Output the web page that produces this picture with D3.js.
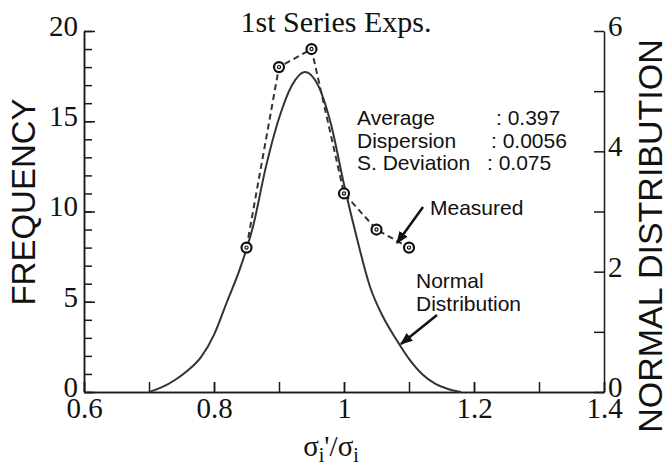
<!DOCTYPE html>
<html>
<head>
<meta charset="utf-8">
<script src="https://cdn.jsdelivr.net/npm/d3@7"></script>
<style>
  body { margin: 0; background: #fff; }
  svg { display: block; }
  .serif { font-family: "Liberation Serif", "Times New Roman", serif; }
  .sans { font-family: "Liberation Sans", Arial, sans-serif; }
</style>
</head>
<body>
<svg id="chart" width="672" height="465"></svg>
<script>
// measured frequencies (left axis)
const measuredX = [0.85, 0.9, 0.95, 1.0, 1.05, 1.1];
const measuredY = [8, 18, 19, 11, 9, 8];

// normal distribution curve (right axis)
const normalX = [0.70, 0.72, 0.74, 0.76, 0.78, 0.80, 0.82, 0.84, 0.86, 0.88, 0.90, 0.92, 0.94, 0.96, 0.98, 1.00, 1.02, 1.04, 1.06, 1.08, 1.10, 1.12, 1.14, 1.16, 1.18];
const normalY = [0.0, 0.08, 0.2, 0.36, 0.58, 0.95, 1.5, 2.05, 2.75, 3.75, 4.55, 5.1, 5.32, 5.1, 4.45, 3.45, 2.55, 1.75, 1.25, 0.88, 0.55, 0.3, 0.14, 0.05, 0];

const xTickLabels = [0.6, 0.8, 1.0, 1.2, 1.4];
const leftTickLabels = [0, 5, 10, 15, 20];
const rightTickLabels = [0, 2, 4, 6];

const stats = [
  { label: "Average", value: ": 0.397" },
  { label: "Dispersion", value: ": 0.0056" },
  { label: "S. Deviation", value: ": 0.075" }
];

const svg = d3.select("#chart");
const mLeft = 84, mRight = 604, mTop = 31, mBottom = 392;

const x = d3.scaleLinear().domain([0.6, 1.4]).range([mLeft, mRight]);
const yL = d3.scaleLinear().domain([0, 20]).range([mBottom, mTop]);
const yR = d3.scaleLinear().domain([0, 6]).range([mBottom, mTop]);

const axisColor = "#1a1a1a";

function styleAxis(g, fontSize) {
  g.select(".domain").attr("stroke", axisColor).attr("stroke-width", 1.5);
  g.selectAll(".tick line").attr("stroke", axisColor).attr("stroke-width", 1.5);
  g.selectAll(".tick text")
    .attr("class", "serif")
    .attr("fill", "#111")
    .style("font-size", fontSize + "px");
}

// minor ticks (inward)
svg.append("g")
  .attr("transform", `translate(${mLeft},0)`)
  .call(d3.axisLeft(yL).ticks(20).tickSize(-8).tickFormat("").tickSizeOuter(0))
  .call(g => styleAxis(g, 28));

svg.append("g")
  .attr("transform", `translate(0,${mBottom})`)
  .call(d3.axisBottom(x).ticks(8).tickSize(-10).tickFormat("").tickSizeOuter(0))
  .call(g => styleAxis(g, 28));

// labelled axes
svg.append("g")
  .attr("transform", `translate(${mLeft},0)`)
  .call(d3.axisLeft(yL).tickValues(leftTickLabels).tickSize(-11).tickPadding(6).tickSizeOuter(0))
  .call(g => styleAxis(g, 29))
  .call(g => g.selectAll(".tick text").attr("dy", "0.15em"));

svg.append("g")
  .attr("transform", `translate(${mRight},0)`)
  .call(d3.axisRight(yR).ticks(6).tickSize(-10).tickFormat(d => rightTickLabels.includes(d) ? d : "").tickPadding(4).tickSizeOuter(0))
  .call(g => styleAxis(g, 29))
  .call(g => g.selectAll(".tick text").attr("dy", "0.15em"));

svg.append("g")
  .attr("transform", `translate(0,${mBottom})`)
  .call(d3.axisBottom(x).tickValues(xTickLabels).tickSize(-10).tickPadding(5)
    .tickFormat(d => d === 1 ? "1" : d3.format(".1f")(d)).tickSizeOuter(0))
  .call(g => styleAxis(g, 29));

// normal distribution curve
const normalData = normalX.map((v, i) => [v, normalY[i]]);
svg.append("path")
  .datum(normalData)
  .attr("fill", "none")
  .attr("stroke", "#333")
  .attr("stroke-width", 2)
  .attr("d", d3.line().x(d => x(d[0])).y(d => yR(d[1])).curve(d3.curveMonotoneX));

// measured dashed line
const measData = measuredX.map((v, i) => [v, measuredY[i]]);
svg.append("path")
  .datum(measData)
  .attr("fill", "none")
  .attr("stroke", "#333")
  .attr("stroke-width", 2)
  .attr("stroke-dasharray", "6,4")
  .attr("d", d3.line().x(d => x(d[0])).y(d => yL(d[1])));

const marks = svg.append("g").selectAll("g")
  .data(measData)
  .join("g")
  .attr("transform", d => `translate(${x(d[0])},${yL(d[1])})`);
marks.append("circle").attr("r", 5).attr("fill", "#fff").attr("stroke", "#111").attr("stroke-width", 2.2);
marks.append("circle").attr("r", 1.6).attr("fill", "none").attr("stroke", "#111").attr("stroke-width", 1.2);

// title
svg.append("text")
  .attr("class", "serif")
  .attr("x", 336).attr("y", 32)
  .attr("text-anchor", "middle")
  .style("font-size", "30px")
  .attr("fill", "#111")
  .text("1st Series Exps.");

// axis titles
const xt = svg.append("text")
  .attr("class", "serif")
  .attr("x", 331).attr("y", 456)
  .attr("text-anchor", "middle")
  .style("font-size", "29px")
  .attr("fill", "#111");
xt.append("tspan").text("σ");
xt.append("tspan").attr("dy", 6).style("font-size", "20px").text("i");
xt.append("tspan").attr("dy", -6).text("'/σ");
xt.append("tspan").attr("dy", 6).style("font-size", "20px").text("i");

svg.append("text")
  .attr("class", "sans")
  .attr("transform", "translate(35,202) rotate(-90)")
  .attr("text-anchor", "middle")
  .style("font-size", "33px")
  .attr("fill", "#111")
  .text("FREQUENCY");

svg.append("text")
  .attr("class", "sans")
  .attr("transform", "translate(662,236) rotate(-90)")
  .attr("text-anchor", "middle")
  .style("font-size", "34px")
  .attr("fill", "#111")
  .text("NORMAL DISTRIBUTION");

// statistics box
const statX = 357;
const valueX = [496, 491, 487];
stats.forEach((s, i) => {
  svg.append("text").attr("class", "sans")
    .attr("x", statX).attr("y", 125 + i * 22.5)
    .style("font-size", "21px").attr("fill", "#111")
    .text(s.label);
  svg.append("text").attr("class", "sans")
    .attr("x", valueX[i]).attr("y", 125 + i * 22.5)
    .style("font-size", "21px").attr("fill", "#111")
    .text(s.value);
});

// annotations with arrows
svg.append("defs").append("marker")
  .attr("id", "arrow")
  .attr("viewBox", "0 0 10 10")
  .attr("refX", 9).attr("refY", 5)
  .attr("markerWidth", 5).attr("markerHeight", 5)
  .attr("orient", "auto")
  .append("path").attr("d", "M0,1 L10,5 L0,9 Z").attr("fill", "#111");

svg.append("text").attr("class", "sans")
  .attr("x", 430).attr("y", 215)
  .style("font-size", "21px").attr("fill", "#111")
  .text("Measured");
svg.append("line")
  .attr("x1", 423).attr("y1", 207).attr("x2", 397).attr("y2", 243)
  .attr("stroke", "#111").attr("stroke-width", 2.5)
  .attr("marker-end", "url(#arrow)");

svg.append("text").attr("class", "sans")
  .attr("x", 416).attr("y", 288)
  .style("font-size", "21px").attr("fill", "#111")
  .text("Normal");
svg.append("text").attr("class", "sans")
  .attr("x", 416).attr("y", 311)
  .style("font-size", "21px").attr("fill", "#111")
  .text("Distribution");
svg.append("line")
  .attr("x1", 437).attr("y1", 315).attr("x2", 401).attr("y2", 344)
  .attr("stroke", "#111").attr("stroke-width", 2.5)
  .attr("marker-end", "url(#arrow)");
</script>
</body>
</html>
